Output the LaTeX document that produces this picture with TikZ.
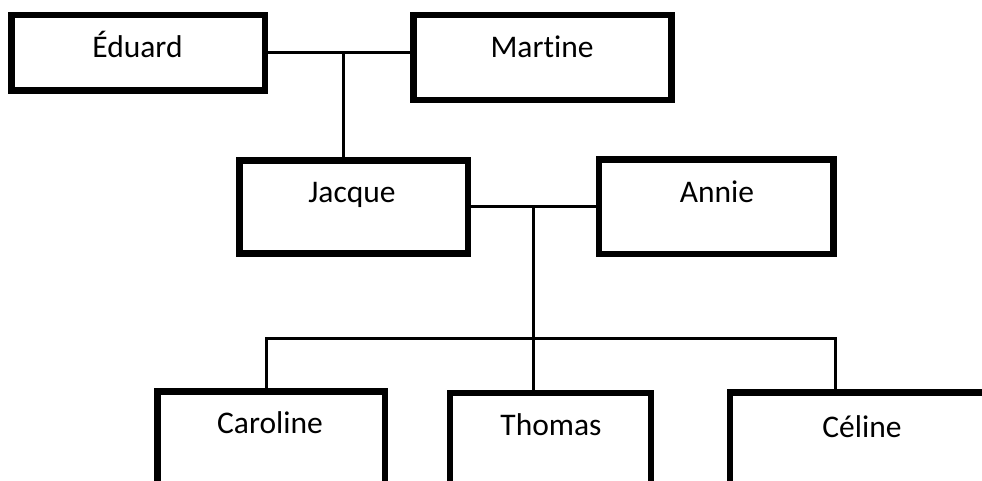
\documentclass[tikz,border=0pt]{standalone}
\usepackage{fontspec}
\setmainfont[Ligatures=CommonOff]{Carlito}
\usetikzlibrary{calc}
\begin{document}
\begin{tikzpicture}[x=1pt,y=-1pt,
  box/.style={draw=black,line width=6.5pt,rectangle,inner sep=0pt,fill=white},
  lbl/.style={anchor=base,inner sep=0pt,font=\fontsize{31.5}{38}\selectfont},
  link/.style={draw=black,line width=3pt}]
\useasboundingbox (0,0) rectangle (982,481);
\clip (0,0) rectangle (982,481);
% boxes
\node[box,minimum width=253.5pt,minimum height=75.5pt] (eduard) at (138.25,52.75) {};
\node[box,minimum width=258pt,minimum height=85pt] (martine) at (542.5,57.5) {};
\node[box,minimum width=228.5pt,minimum height=93pt] (jacque) at (353.75,207) {};
\node[box,minimum width=234.5pt,minimum height=94.5pt] (annie) at (716.25,206.75) {};
\node[box,minimum width=227.5pt,minimum height=140pt] (caroline) at (271.25,461.5) {};
\node[box,minimum width=201pt,minimum height=140pt] (thomas) at (550.5,463) {};
\node[box,minimum width=320pt,minimum height=140pt] (celine) at (890,462.5) {};
% texts
\node[lbl] (teduard) at (137.5,58) {Éduard};
\node[lbl] (tmartine) at (542,58) {Martine};
\node[lbl] (tjacque) at (352,203) {Jacque};
\node[lbl] (tannie) at (717,203) {Annie};
\node[lbl] (tcaroline) at (270,433) {Caroline};
\node[lbl] (tthomas) at (551,435) {Thomas};
\node[lbl] (tceline) at (862,437) {Céline};
% junctions
\coordinate (j1) at (343,53);
\coordinate (j2) at (533,206.5);
\coordinate (bl) at (266,338);
\coordinate (br) at (835,338);
% connectors
\draw[link] (eduard.east |- j1) -- (martine.west |- j1);
\draw[link] (j1) -- (jacque.north -| j1);
\draw[link] (jacque.east |- j2) -- (annie.west |- j2);
\draw[link] (j2) -- (thomas.north -| j2);
\draw[link] (caroline.north -| bl) -- (bl) -- (br) -- (celine.north -| br);
\end{tikzpicture}
\end{document}
